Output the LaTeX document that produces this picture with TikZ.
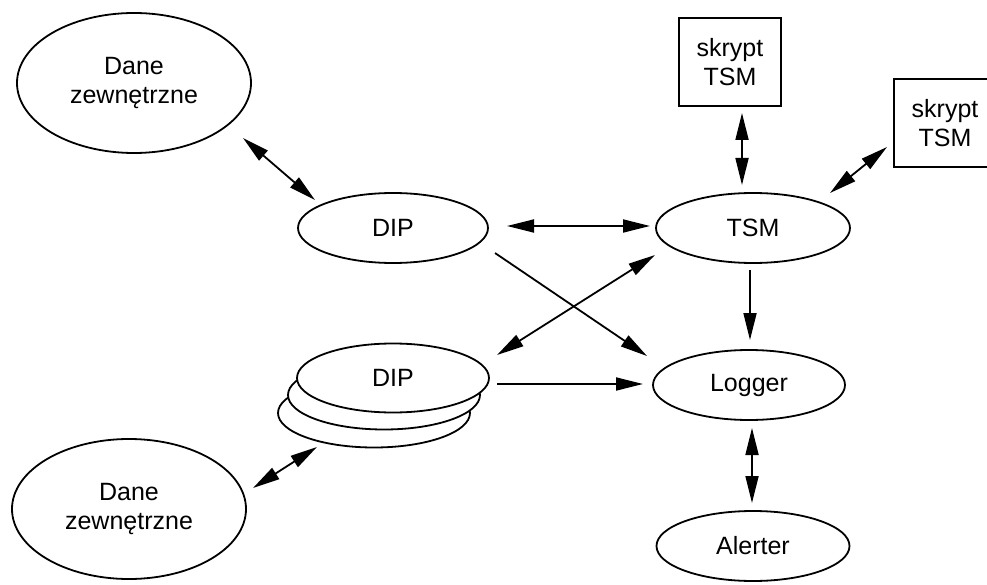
\documentclass[tikz,border=0pt]{standalone}
\usepackage{fontspec}
\setmainfont{Liberation Sans}
\usetikzlibrary{shapes.geometric,arrows.meta}
\begin{document}
\begin{tikzpicture}[x=1pt,y=-1pt,
  font=\fontsize{25}{29}\selectfont,
  every node/.style={line width=1.8pt,inner sep=0pt,align=center},
  oval/.style={draw,ellipse,fill=white},
  scriptbox/.style={draw,rectangle,minimum width=102pt,minimum height=88pt},
  conn/.style={line width=1.8pt},
  tip/.tip={Triangle[length=27pt,width=13pt]},
  one/.style={conn,-tip},
  two/.style={conn,tip-tip}]
\useasboundingbox (0,0) rectangle (987,585);
\clip (0,0) rectangle (987,585);

% external data sources
\node[oval,minimum width=234pt,minimum height=140pt] (dane1) at (134,83) {Dane\\zewnętrzne};
\node[oval,minimum width=234pt,minimum height=140pt] (dane2) at (129,509) {Dane\\zewnętrzne};

% single DIP
\node[oval,minimum width=190pt,minimum height=70pt] (dip1) at (393,228) {DIP};

% stacked DIP instances, back to front
\node[oval,minimum width=192pt,minimum height=69pt] (dip2c) at (374,413) {};
\node[oval,minimum width=192pt,minimum height=69pt] (dip2b) at (384,395) {};
\node[oval,minimum width=192pt,minimum height=69pt] (dip2) at (393,378) {DIP};

% TSM, logging and alerting
\node[oval,minimum width=194pt,minimum height=70pt] (tsm) at (753,228) {TSM};
\node[oval,minimum width=192pt,minimum height=70pt] (logger) at (749,385) {Logger};
\node[oval,minimum width=193pt,minimum height=70pt] (alerter) at (753,546) {Alerter};

% TSM scripts
\node[scriptbox] (box1) at (730,62) {skrypt\\TSM};
\node[scriptbox] (box2) at (945,123) {skrypt\\TSM};

% connectors
\draw[two] ([shift={(109,55)}]dane1.center) -- ([shift={(-78,-28)}]dip1.center);
\draw[two] ([shift={(114,-2)}]dip1.center) -- ([shift={(-103,-2)}]tsm.center);
\draw[one] ([shift={(102,25)}]dip1.center) -- ([shift={(-102,-29)}]logger.center);
\draw[two] ([shift={(104,-23)}]dip2.center) -- ([shift={(-98,27)}]tsm.center);
\draw[one] ([shift={(104,6)}]dip2.center) -- ([shift={(-106,-1)}]logger.center);
\draw[one] ([shift={(-3,42)}]tsm.center) -- ([shift={(1,-45)}]logger.center);
\draw[two] ([shift={(3,43)}]logger.center) -- ([shift={(-1,-43)}]alerter.center);
\draw[two] ([shift={(12,51)}]box1.center) -- ([shift={(-11,-43)}]tsm.center);
\draw[two] ([shift={(-58,24)}]box2.center) -- ([shift={(77,-35)}]tsm.center);
\draw[two] ([shift={(124,-21)}]dane2.center) -- ([shift={(-76,69)}]dip2.center);
\end{tikzpicture}
\end{document}
